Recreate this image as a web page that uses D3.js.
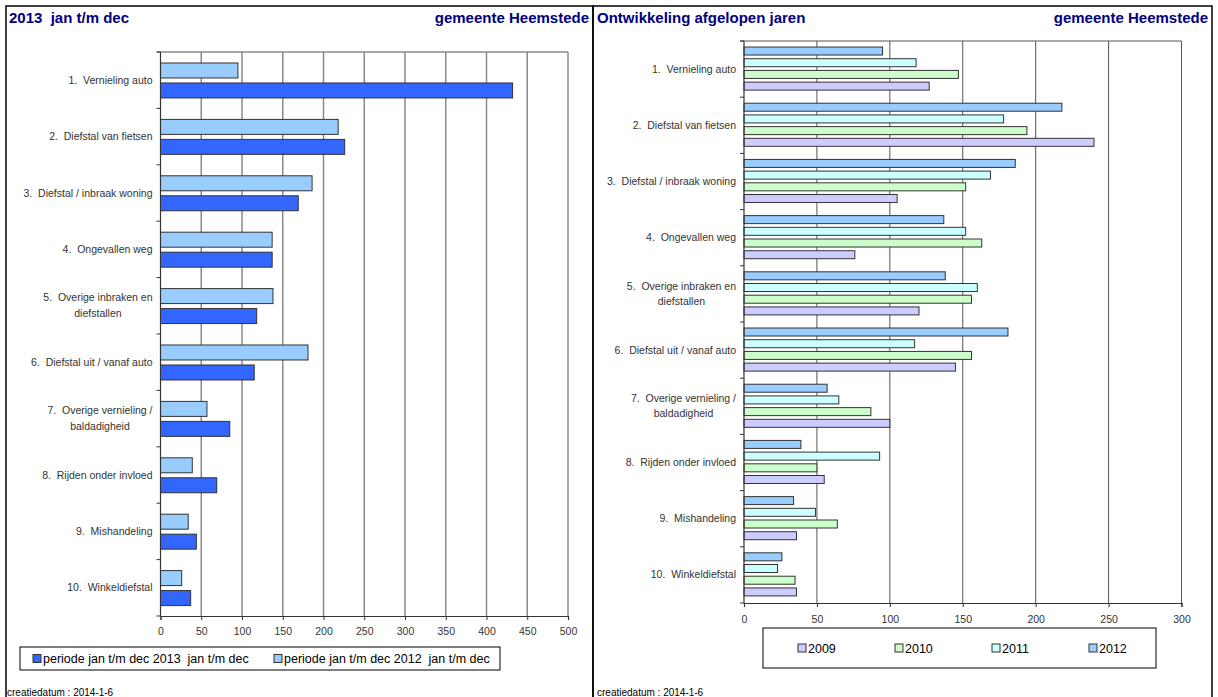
<!DOCTYPE html>
<html>
<head>
<meta charset="utf-8">
<script src="https://cdn.jsdelivr.net/npm/d3@7"></script>
<style>
  body { margin: 0; background: #fff; }
  svg { display: block; font-family: "Liberation Sans", Arial, sans-serif; }
  svg text { white-space: pre; }
</style>
</head>
<body>
<div id="chart"></div>
<script>
// categories (two-line labels split with |)
var categories = [
    '1.  Vernieling auto',
    '2.  Diefstal van fietsen',
    '3.  Diefstal / inbraak woning',
    '4.  Ongevallen weg',
    '5.  Overige inbraken en|diefstallen',
    '6.  Diefstal uit / vanaf auto',
    '7.  Overige vernieling /|baldadigheid',
    '8.  Rijden onder invloed',
    '9.  Mishandeling',
    '10.  Winkeldiefstal'
];

var values2009 = [127, 240, 105, 76, 120, 145, 100, 55, 36, 36];
var values2010 = [147, 194, 152, 163, 156, 156, 87, 50, 64, 35];
var values2011 = [118, 178, 169, 152, 160, 117, 65, 93, 49, 23];
var values2012 = [95, 218, 186, 137, 138, 181, 57, 39, 34, 26];
var values2013 = [432, 226, 169, 137, 118, 115, 85, 69, 44, 37];

var leftTicks = [0, 50, 100, 150, 200, 250, 300, 350, 400, 450, 500];
var rightTicks = [0, 50, 100, 150, 200, 250, 300];

var leftSeries = [
    { key: 'p2012', name: 'periode jan t/m dec 2012  jan t/m dec', values: values2012, color: '#99ccff' },
    { key: 'p2013', name: 'periode jan t/m dec 2013  jan t/m dec', values: values2013, color: '#3366ff' }
];
var leftLegendOrder = ['p2013', 'p2012'];

var rightSeries = [
    { key: '2012', values: values2012, color: '#99ccff' },
    { key: '2011', values: values2011, color: '#ccffff' },
    { key: '2010', values: values2010, color: '#ccffcc' },
    { key: '2009', values: values2009, color: '#ccccff' }
];
var rightLegendOrder = ['2009', '2010', '2011', '2012'];

var navy = '#000080';
var textGray = '#333';
var labelSize = 10.5;

var svg = d3.select('#chart').append('svg')
    .attr('width', 1218)
    .attr('height', 697);

// panel frames
svg.append('rect').attr('x', 6).attr('y', 6).attr('width', 587).attr('height', 720)
    .attr('fill', 'none').attr('stroke', '#000').attr('stroke-width', 1.5);
svg.append('rect').attr('x', 593).attr('y', 6).attr('width', 619).attr('height', 720)
    .attr('fill', 'none').attr('stroke', '#000').attr('stroke-width', 1.5);

function title(x, text, anchor) {
    svg.append('text').attr('x', x).attr('y', 23)
        .attr('text-anchor', anchor)
        .attr('font-size', 15).attr('font-weight', 'bold')
        .attr('fill', navy).text(text);
}
title(9, '2013  jan t/m dec', 'start');
title(589, 'gemeente Heemstede', 'end');
title(597, 'Ontwikkeling afgelopen jaren', 'start');
title(1208, 'gemeente Heemstede', 'end');

svg.append('text').attr('x', 7).attr('y', 696).attr('font-size', 10).attr('fill', '#000')
    .text('creatiedatum : 2014-1-6');
svg.append('text').attr('x', 597).attr('y', 696).attr('font-size', 10).attr('fill', '#000')
    .text('creatiedatum : 2014-1-6');

function drawChart(cfg) {
    var g = svg.append('g');
    var x = d3.scaleLinear().domain(cfg.domain).range([cfg.left, cfg.right]);
    var y = d3.scaleBand().domain(categories).range([cfg.top, cfg.bottom]);
    var B = y.bandwidth();
    var sub = d3.scaleBand().domain(cfg.series.map(function(s) { return s.key; }))
        .range([cfg.subRange[0] * B, cfg.subRange[1] * B])
        .paddingInner(cfg.subPad);

    // gridlines
    g.selectAll('line.grid').data(cfg.ticks.slice(1)).enter().append('line')
        .attr('x1', function(d) { return x(d); }).attr('x2', function(d) { return x(d); })
        .attr('y1', cfg.top).attr('y2', cfg.bottom)
        .attr('stroke', cfg.gridColor).attr('stroke-width', cfg.gridWidth);
    g.append('line').attr('x1', cfg.left - 4).attr('x2', cfg.right)
        .attr('y1', cfg.top).attr('y2', cfg.top)
        .attr('stroke', cfg.gridColor).attr('stroke-width', cfg.gridWidth);

    // bars
    cfg.series.forEach(function(s) {
        g.selectAll('rect.b' + s.key).data(s.values).enter().append('rect')
            .attr('x', x(0))
            .attr('y', function(d, i) { return y(categories[i]) + sub(s.key); })
            .attr('width', function(d) { return x(d) - x(0); })
            .attr('height', sub.bandwidth())
            .attr('fill', s.color)
            .attr('stroke', '#333').attr('stroke-width', 1);
    });

    // category axis
    var bounds = d3.range(categories.length + 1).map(function(i) { return cfg.top + i * B; });
    g.append('line').attr('x1', cfg.left).attr('x2', cfg.left)
        .attr('y1', cfg.top).attr('y2', cfg.bottom).attr('stroke', '#333').attr('stroke-width', 1.2);
    g.selectAll('line.ctick').data(bounds).enter().append('line')
        .attr('x1', cfg.left - 4).attr('x2', cfg.left)
        .attr('y1', function(d) { return d; }).attr('y2', function(d) { return d; })
        .attr('stroke', '#333');

    // category labels
    categories.forEach(function(c) {
        var lines = c.split('|');
        var cy = y(c) + B / 2;
        var t = g.append('text').attr('font-size', labelSize).attr('fill', textGray)
            .attr('text-anchor', lines.length > 1 ? 'middle' : 'end');
        if (lines.length === 1) {
            t.attr('x', cfg.left - 8).attr('y', cy + 3.5).text(c);
        } else {
            // measure first line to center the block under it
            var tmp = g.append('text').attr('font-size', labelSize).text(lines[0]);
            var w = tmp.node().getComputedTextLength();
            tmp.remove();
            var cx = cfg.left - 8 - w / 2;
            lines.forEach(function(l, k) {
                t.append('tspan').attr('x', cx).attr('y', cy + 3.5 + (k === 0 ? -cfg.lineOff : cfg.lineOff)).text(l);
            });
        }
    });

    // value axis
    var axis = g.append('g').attr('transform', 'translate(0,' + cfg.bottom + ')')
        .call(d3.axisBottom(x).tickValues(cfg.ticks).tickSize(4).tickPadding(cfg.tickPad));
    axis.select('.domain').attr('stroke', '#333').attr('stroke-width', 1.2);
    axis.selectAll('.tick line').attr('stroke', '#333');
    axis.selectAll('.tick text').attr('font-size', labelSize).attr('fill', textGray)
        .attr('font-family', '"Liberation Sans", Arial, sans-serif');
}

drawChart({
    domain: [0, 500], left: 160.5, right: 568, top: 52, bottom: 616,
    ticks: leftTicks, series: leftSeries,
    subRange: [0.195, 0.815], subPad: 0.25,
    gridColor: '#8a8a8a', gridWidth: 1.5, lineOff: 8, tickPad: 8
});

drawChart({
    domain: [0, 300], left: 744, right: 1181.5, top: 41, bottom: 603,
    ticks: rightTicks, series: rightSeries,
    subRange: [0.107, 0.874], subPad: 0.316,
    gridColor: '#555', gridWidth: 1, lineOff: 7.5, tickPad: 9
});

// legends
function legend(box, items, fontSize) {
    var g = svg.append('g');
    g.append('rect').attr('x', box.x).attr('y', box.y).attr('width', box.w).attr('height', box.h)
        .attr('fill', '#fff').attr('stroke', '#000').attr('stroke-width', 1);
    var cy = box.y + box.h / 2;
    items.forEach(function(it) {
        g.append('rect').attr('x', it.x).attr('y', cy - 4).attr('width', 8).attr('height', 8)
            .attr('fill', it.color).attr('stroke', '#333').attr('stroke-width', 1);
        g.append('text').attr('x', it.x + 10).attr('y', cy + 4.5).attr('font-size', fontSize)
            .attr('fill', '#000').text(it.name);
    });
}

var leftX = [33, 274];
legend({ x: 20, y: 647, w: 480, h: 23 },
    leftLegendOrder.map(function(k, i) {
        var s = leftSeries.filter(function(d) { return d.key === k; })[0];
        return { x: leftX[i], color: s.color, name: s.name };
    }), 12.5);

var rightX = [798, 895, 992, 1089];
legend({ x: 763, y: 628, w: 393, h: 40 },
    rightLegendOrder.map(function(k, i) {
        var s = rightSeries.filter(function(d) { return d.key === k; })[0];
        return { x: rightX[i], color: s.color, name: s.key };
    }), 12.5);
</script>
</body>
</html>
